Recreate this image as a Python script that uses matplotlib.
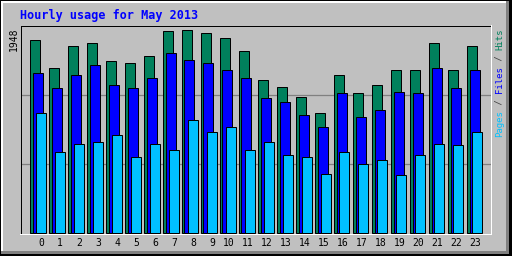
import matplotlib
matplotlib.use('Agg')
import matplotlib.pyplot as plt
import matplotlib.patches as patches
import numpy as np

hours = list(range(24))
hits  = [1852, 1583, 1785, 1823, 1641, 1622, 1689, 1929, 1948, 1919, 1862, 1737,
         1468, 1401, 1305, 1142, 1516, 1343, 1420, 1564, 1564, 1823, 1564, 1794]
files = [1535, 1382, 1516, 1612, 1411, 1391, 1487, 1718, 1651, 1631, 1555, 1487,
         1286, 1257, 1132, 1008, 1334, 1113, 1171, 1353, 1334, 1574, 1391, 1555]
pages = [1142, 777, 854, 873, 931, 729, 854, 787, 1084, 960, 1008, 796,
         873, 748, 720, 557, 777, 653, 691, 547, 748, 854, 844, 960]
max_label = '1948'
title = 'Hourly usage for May 2013'

C_HITS, C_FILES, C_PAGES = '#00805C', '#0000FF', '#00C0FF'
BG = '#C0C0C0'
W, H = 512, 256
mono = 'DejaVu Sans Mono'

fig = plt.figure(figsize=(W/100, H/100), dpi=100, facecolor=BG)

def rect(x0, y0, w, h, c):
    # pixel box (from top-left) -> figure fraction
    fig.add_artist(patches.Rectangle((x0/W, 1-(y0+h)/H), w/W, h/H,
                                     transform=fig.transFigure, facecolor=c,
                                     edgecolor='none', lw=0))

# outer 3d frame
rect(0, 0, W, 1, 'black'); rect(0, 0, 1, H, 'black')
rect(1, 1, 508, 2, 'white'); rect(1, 1, 2, 252, 'white')
rect(1, 251, 508, 3, '#808080'); rect(506, 1, 3, 253, '#808080')
rect(0, 254, W, 2, 'black'); rect(509, 0, 3, H, 'black')
# inset white edges of plot box
rect(491, 25, 1, 210, 'white'); rect(20, 234, 472, 1, 'white')

ax = fig.add_axes([20.5/W, 1-233.5/H, 470/W, 208/H])
ax.set_facecolor(BG)
for s in ax.spines.values():
    s.set_linewidth(0.72); s.set_color('black')

step = 19.0          # px per hour group
bw = 10/step
x = np.array(hours, dtype=float)
ppu = 1948/203.0     # value per pixel
ax.set_xlim((20.5-29.5)/step, (490.5-29.5)/step)
ax.set_ylim(-1*ppu, 207*ppu)

for f in (1/3, 2/3):
    ax.plot([0, 1], [f, f], transform=ax.transAxes, color='#808080', lw=0.9, zorder=0)

ax.bar(x, hits, width=bw, align='edge', color=C_HITS, edgecolor='black', lw=0.72, zorder=2)
ax.bar(x+3/step, files, width=bw, align='edge', color=C_FILES, edgecolor='black', lw=0.72, zorder=3)
ax.bar(x+6/step, pages, width=bw, align='edge', color=C_PAGES, edgecolor='black', lw=0.72, zorder=4)

ax.set_xticks([]); ax.set_yticks([])
lab_y = -(243-233.5)/208
for h in hours:
    off = 11.5/step if h < 10 else 9/step
    ax.text(h+off, lab_y, str(h), transform=ax.get_xaxis_transform(),
            ha='center', va='center', fontsize=7, family=mono, color='black')

fig.text(20/W, 1-15/H, title, ha='left', va='center', fontsize=8.5,
         family=mono, fontweight='bold', color='#0000FF')
fig.text(13.5/W, 1-39/H, max_label, rotation=90, ha='center', va='center',
         fontsize=7, family=mono, color='black')

# right-hand legend, bottom to top
cw = 5.45
y0 = 137
segs = [('Pages', C_PAGES), (' / ', '#404040'), ('Files', C_FILES), (' / ', '#404040'), ('Hits', C_HITS)]
pos = 0
for s, c in segs:
    fig.text(499.5/W, 1-(y0-pos*cw)/H, s, rotation=90, ha='center', va='bottom',
             fontsize=6.5, family=mono, color=c)
    pos += len(s)

fig.savefig('out.png', dpi=100, facecolor=BG)
